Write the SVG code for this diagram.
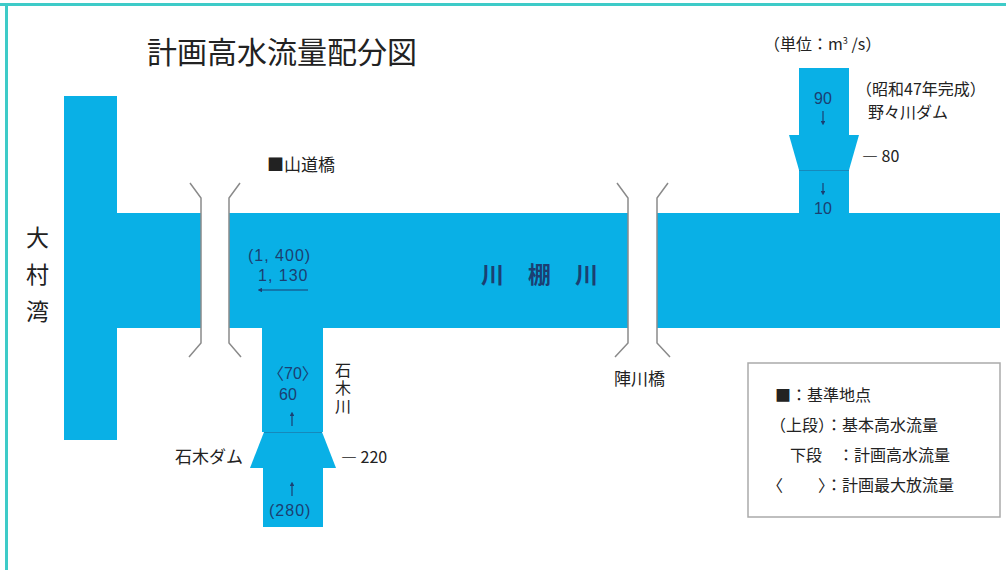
<svg xmlns="http://www.w3.org/2000/svg" width="1006" height="570" viewBox="0 0 1006 570">
<style>
.w{fill:#09b0e6}
.t{font-family:"Noto Sans CJK JP","Liberation Sans",sans-serif;fill:#222}
.n{font-family:"Liberation Sans","Noto Sans CJK JP",sans-serif;fill:#1b3f72}
.b{fill:none;stroke:#8a8a8a;stroke-width:1.5}
.a{stroke:#1b3f72;stroke-width:1.2;fill:none}
</style>
<defs>
<marker id="ah" viewBox="0 0 6 6" refX="3" refY="3" markerWidth="4" markerHeight="4" orient="auto"><path d="M0,0L6,3L0,6z" fill="#1b3f72"/></marker>
</defs>
<rect width="1006" height="570" fill="#fff"/>
<rect x="0" y="3" width="1006" height="3" fill="#3ecbc8"/>
<rect x="5" y="3" width="3" height="567" fill="#3ecbc8"/>
<text class="t" x="147" y="63" font-size="30">計画高水流量配分図</text>

<g id="omura-bay">
<rect class="w" x="64" y="96" width="53" height="344"/>
<text class="t" x="26" y="246" font-size="23">大</text>
<text class="t" x="26" y="283" font-size="23">村</text>
<text class="t" x="26" y="320" font-size="23">湾</text>
</g>

<g id="kawatana-river">
<rect class="w" x="117" y="213" width="84" height="115"/>
<rect class="w" x="229" y="213" width="399" height="115"/>
<rect class="w" x="657" y="213" width="343" height="115"/>
<text class="n" x="481" y="283" font-size="23" font-family="Noto Sans CJK JP" font-weight="bold">川</text>
<text class="n" x="528" y="283" font-size="23" font-family="Noto Sans CJK JP" font-weight="bold">棚</text>
<text class="n" x="575" y="283" font-size="23" font-family="Noto Sans CJK JP" font-weight="bold">川</text>
<text class="n" x="248" y="261" font-size="16" letter-spacing="1">(1, 400)</text>
<text class="n" x="258" y="281" font-size="16" letter-spacing="1">1, 130</text>
</g>

<g id="yamamichi-bridge">
<path class="b" d="M190,183L201,198V343L189,357"/>
<path class="b" d="M240,183L229,198V343L241,357"/>
<text class="t" x="267" y="171" font-size="17">■山道橋</text>
</g>

<g id="jinkawa-bridge">
<path class="b" d="M617,183L628,198V343L615,357"/>
<path class="b" d="M668,183L657,198V343L670,357"/>
<text class="t" x="614" y="385" font-size="17">陣川橋</text>
</g>

<g id="ishiki-river">
<rect class="w" x="262" y="328" width="61" height="104"/>
<path class="w" d="M264,432H322L336,468H250Z"/>
<rect class="w" x="263" y="468" width="60" height="59"/>
<line x1="264" y1="432.5" x2="322" y2="432.5" stroke="#1b7fb0" stroke-width="0.8"/>
<text class="n" x="268" y="379" font-size="16">〈70〉</text>
<text class="n" x="279" y="400" font-size="16">60</text>
<text class="t" x="343" y="362" font-size="16" writing-mode="vertical-rl" letter-spacing="2">石木川</text>
<text class="t" x="175" y="463" font-size="17">石木ダム</text>
<text class="t" x="341" y="463" font-size="16">― 220</text>
<text class="n" x="269" y="516" font-size="16" letter-spacing="1">(280)</text>
</g>

<g id="nonokawa-dam">
<rect class="w" x="799" y="68" width="50" height="67"/>
<path class="w" d="M789,135H859L849,170H799Z"/>
<rect class="w" x="799" y="170" width="50" height="43"/>
<line x1="799" y1="170.5" x2="849" y2="170.5" stroke="#1b7fb0" stroke-width="0.8"/>
<text class="n" x="814" y="104" font-size="16">90</text>
<text class="n" x="814" y="214" font-size="16">10</text>
<text class="t" x="856" y="95" font-size="16">（昭和47年完成）</text>
<text class="t" x="868" y="118" font-size="16">野々川ダム</text>
<text class="t" x="862" y="162" font-size="16">― 80</text>
<text class="t" x="764" y="50" font-size="16">（単位：m<tspan font-size="9" dy="-6">3</tspan><tspan dy="6"> /s）</tspan></text>
</g>

<g id="connectors">
<line class="a" x1="308" y1="290" x2="260" y2="290" marker-end="url(#ah)"/>
<line class="a" x1="292" y1="426" x2="292" y2="414" marker-end="url(#ah)"/>
<line class="a" x1="292" y1="496" x2="292" y2="484" marker-end="url(#ah)"/>
<line class="a" x1="823" y1="111" x2="823" y2="123" marker-end="url(#ah)"/>
<line class="a" x1="823" y1="183" x2="823" y2="193" marker-end="url(#ah)"/>
</g>

<g id="legend">
<rect x="748" y="363" width="252" height="154" fill="#fff" stroke="#aaa" stroke-width="1.5"/>
<text class="t" x="775" y="401" font-size="16">■：基準地点</text>
<text class="t" x="770" y="431" font-size="16">（上段）：基本高水流量</text>
<text class="t" x="790" y="461" font-size="16">下段　：計画高水流量</text>
<text class="t" x="767" y="491" font-size="16">〈</text>
<text class="t" x="818" y="491" font-size="16">〉：計画最大放流量</text>
</g>
</svg>
